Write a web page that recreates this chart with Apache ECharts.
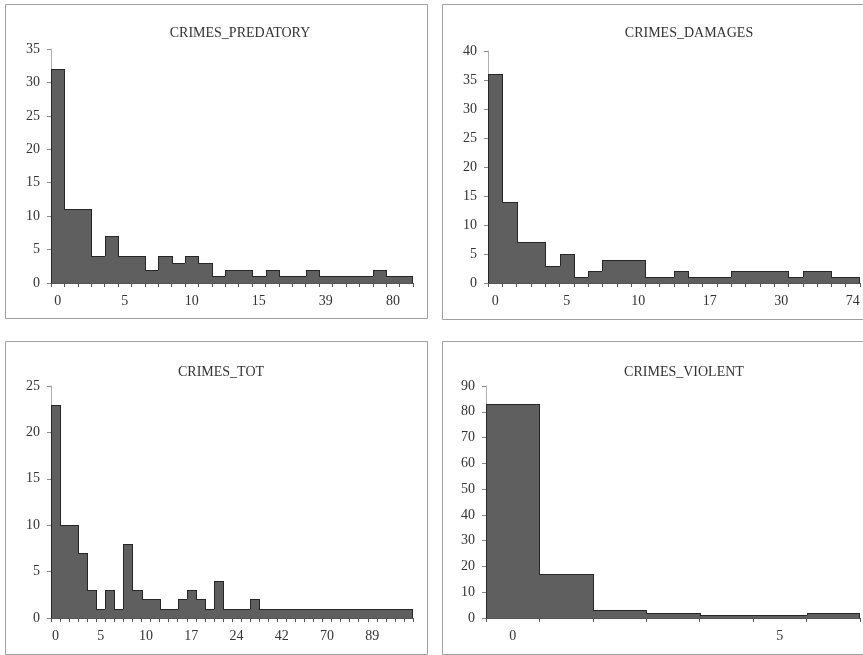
<!DOCTYPE html>
<html lang="en">
  <head>
    <meta charset="UTF-8" />
    <title>Crimes histograms</title>
    <script src="https://cdn.jsdelivr.net/npm/echarts@6/dist/echarts.min.js"></script>
    <style>
      html, body { margin: 0; padding: 0; background: #fff; }
      #app { width: 863px; height: 655px; }
    </style>
  </head>
  <body>
    <div id="app"></div>
    <script>
      // bins (category names) and counts for each panel
      const predatoryBins = ["0","1","2","3","4","5","6","7","8","9","10","11","12","13","14","15",
        "16","18","20","25","39","45","50","58","65","80","95"];
      const predatoryCounts = [32,11,11,4,7,4,4,2,4,3,4,3,1,2,2,1,2,1,1,2,1,1,1,1,2,1,1];

      const damagesBins = ["0","1","2","3","4","5","6","7","8","9","10","11","12","14","15","17",
        "19","21","24","27","30","35","42","50","60","74"];
      const damagesCounts = [36,14,7,7,3,5,1,2,4,4,4,1,1,2,1,1,1,2,2,2,2,1,2,2,1,1];

      const totBins = ["0","1","2","3","4","5","6","7","8","9","10","11","13","14","15","17",
        "18","19","21","22","24","26","29","33","37","42","47","52","58","64","70",
        "74","78","82","86","89","95","102","110","120"];
      const totCounts = [23,10,10,7,3,1,3,1,8,3,2,2,1,1,2,3,2,1,4,1,1,1,2,
        1,1,1,1,1,1,1,1,1,1,1,1,1,1,1,1,1];

      const violentBins = ["0","1","2","3","4","5","6"];
      const violentCounts = [83,17,3,2,1,1,2];

      const panels = [
        { title: "CRIMES_PREDATORY", bins: predatoryBins, counts: predatoryCounts, max: 35, step: 5,
          grid: { left: 51, top: 49, width: 362, height: 234 }, titleX: 240, titleY: 26 },
        { title: "CRIMES_DAMAGES", bins: damagesBins, counts: damagesCounts, max: 40, step: 5,
          grid: { left: 488, top: 51, width: 372, height: 232 }, titleX: 689, titleY: 26 },
        { title: "CRIMES_TOT", bins: totBins, counts: totCounts, max: 25, step: 5,
          grid: { left: 51, top: 386, width: 362, height: 232 }, titleX: 221, titleY: 365 },
        { title: "CRIMES_VIOLENT", bins: violentBins, counts: violentCounts, max: 90, step: 10,
          grid: { left: 486, top: 386, width: 374, height: 232 }, titleX: 684, titleY: 365 }
      ];

      const font = "'Liberation Serif', 'DejaVu Serif', serif";
      const fill = "#5f5f5f";
      const edge = "#262626";

      // one histogram bar: filled rect + dark top edge + step edge on the left
      function histItem(counts) {
        return function (params, api) {
          const idx = api.value(0);
          const val = api.value(1);
          const top = api.coord([idx, val]);
          const base = api.coord([idx, 0]);
          const w = api.size([1, 0])[0];
          const x0 = Math.round(top[0] - w / 2);
          const x1 = Math.round(top[0] + w / 2);
          const yTop = Math.round(top[1]);
          const yBase = Math.round(base[1]);
          const prev = idx > 0 ? Math.round(api.coord([idx - 1, counts[idx - 1]])[1]) : yBase;
          const children = [
            { type: "rect", shape: { x: x0, y: yTop, width: x1 - x0, height: yBase - yTop },
              style: { fill: fill } },
            { type: "line", shape: { x1: x0, y1: yTop + 0.5, x2: x1, y2: yTop + 0.5 },
              style: { stroke: edge, lineWidth: 1 } },
            { type: "line", shape: { x1: x0 + 0.5, y1: prev, x2: x0 + 0.5, y2: yTop },
              style: { stroke: edge, lineWidth: 1 } }
          ];
          if (idx === counts.length - 1) {
            children.push({ type: "line", shape: { x1: x1 - 0.5, y1: yTop, x2: x1 - 0.5, y2: yBase },
              style: { stroke: edge, lineWidth: 1 } });
          }
          return { type: "group", children: children };
        };
      }

      const option = {
        backgroundColor: "#fff",
        animation: false,
        title: panels.map((p) => ({
          text: p.title,
          left: p.titleX,
          top: p.titleY,
          textAlign: "center",
          padding: 0,
          textStyle: { fontFamily: font, fontSize: 14, fontWeight: "normal", color: "#333" }
        })),
        graphic: [
          [5.5, 4.5, 422, 314],
          [442.5, 4.5, 430, 315],
          [5.5, 341.5, 422, 313],
          [442.5, 341.5, 430, 313]
        ].map((r) => ({
          type: "rect",
          shape: { x: r[0], y: r[1], width: r[2], height: r[3] },
          style: { fill: "none", stroke: "#a0a0a0", lineWidth: 1 },
          z: -1
        })),
        grid: panels.map((p) => p.grid),
        xAxis: panels.map((p, i) => ({
          type: "category",
          gridIndex: i,
          data: p.bins,
          boundaryGap: true,
          z: 5,
          axisLine: { lineStyle: { color: "#555", width: 1 } },
          axisTick: { show: true, interval: 0, length: 4, lineStyle: { color: "#555" } },
          axisLabel: { interval: 4, margin: 11, fontFamily: font, fontSize: 14, color: "#333" }
        })),
        yAxis: panels.map((p, i) => ({
          type: "value",
          gridIndex: i,
          min: 0,
          max: p.max,
          interval: p.step,
          splitLine: { show: false },
          axisLine: { show: true, lineStyle: { color: "#b0b0b0" } },
          axisTick: { show: true, length: 4, lineStyle: { color: "#888" } },
          axisLabel: { margin: 11, fontFamily: font, fontSize: 14, color: "#333" }
        })),
        series: panels.map((p, i) => ({
          type: "custom",
          xAxisIndex: i,
          yAxisIndex: i,
          data: p.counts.map((v, k) => [k, v]),
          encode: { x: 0, y: 1 },
          renderItem: histItem(p.counts)
        }))
      };

      const chart = echarts.init(document.getElementById("app"));
      chart.setOption(option);
    </script>
  </body>
</html>
